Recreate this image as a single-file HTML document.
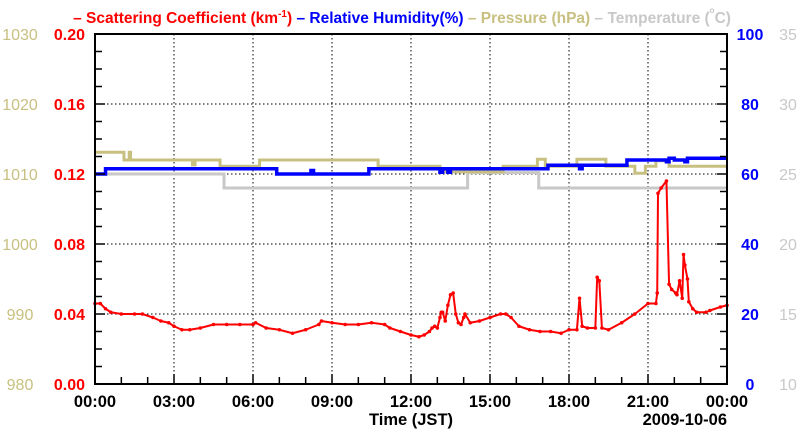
<!DOCTYPE html>
<html><head><meta charset="utf-8">
<style>
html,body{margin:0;padding:0;background:#fff;}
svg{display:block;font-family:"Liberation Sans",sans-serif;font-weight:bold;}
</style></head>
<body>
<svg id="chart" width="800" height="434" viewBox="0 0 800 434" xmlns="http://www.w3.org/2000/svg">
<text x="402" y="23" font-size="15.5" text-anchor="middle"><tspan fill="#ff0000">– Scattering Coefficient (km</tspan><tspan fill="#ff0000" font-size="10" dy="-6">-1</tspan><tspan fill="#ff0000" dy="6">)</tspan><tspan fill="#0000ff"> – Relative Humidity(%)</tspan><tspan fill="#c8c080"> – Pressure (hPa)</tspan><tspan fill="#c8c8c8"> – Temperature (</tspan><tspan fill="#c8c8c8" font-size="8" dy="-10">o</tspan><tspan fill="#c8c8c8" dy="10">C)</tspan></text>
<g id="grid"></g>
<g id="series"></g>
<g id="axes"></g>
</svg>
<script>
// X ticks
const xTickHours = [0,3,6,9,12,15,18,21,24];
const xTickLabels = ["00:00","03:00","06:00","09:00","12:00","15:00","18:00","21:00","00:00"];
// Left axes
const scatTicks = [0,0.04,0.08,0.12,0.16,0.20];
const scatTickLabels = ["0.00","0.04","0.08","0.12","0.16","0.20"];
const presTickLabels = ["980","990","1000","1010","1020","1030"];
// Right axes
const rhTickLabels = ["0","20","40","60","80","100"];
const tempTickLabels = ["10","15","20","25","30","35"];

// Scattering coefficient (hour, km^-1)
const scatHours = [0,0.2,0.4,0.6,1,1.5,1.8,2.2,2.5,2.8,3,3.3,3.6,4,4.5,5,5.5,6,6.1,6.5,7,7.5,8,8.5,8.6,9,9.5,10,10.5,11,11.2,11.6,12,12.3,12.5,12.7,12.8,12.9,13.0,13.1,13.15,13.2,13.3,13.4,13.5,13.6,13.7,13.8,13.9,14.0,14.05,14.25,14.6,15,15.4,15.6,15.8,16.1,16.5,16.9,17.3,17.7,18,18.3,18.4,18.5,18.7,19,19.07,19.15,19.25,19.5,20,20.5,21,21.3,21.35,21.38,21.5,21.7,21.8,21.9,22.05,22.1,22.2,22.3,22.35,22.4,22.5,22.55,22.7,22.85,23.2,23.35,23.75,24];
const scatValues = [0.046,0.046,0.043,0.041,0.040,0.040,0.040,0.038,0.036,0.035,0.033,0.031,0.031,0.032,0.034,0.034,0.034,0.034,0.035,0.032,0.031,0.029,0.031,0.034,0.036,0.035,0.034,0.034,0.035,0.034,0.032,0.030,0.028,0.027,0.028,0.030,0.032,0.033,0.032,0.038,0.041,0.041,0.036,0.045,0.051,0.052,0.040,0.035,0.034,0.038,0.040,0.035,0.036,0.038,0.040,0.040,0.038,0.033,0.031,0.030,0.030,0.029,0.031,0.031,0.049,0.033,0.032,0.032,0.061,0.059,0.032,0.031,0.035,0.040,0.046,0.046,0.052,0.109,0.112,0.116,0.057,0.054,0.052,0.051,0.059,0.049,0.074,0.068,0.060,0.047,0.043,0.041,0.041,0.042,0.044,0.045];

// Relative humidity step series (hour, %)
const rhHours = [0,0.4,6.9,8.2,8.3,8.4,10.4,13.1,13.2,13.4,13.5,17.2,18.4,18.5,18.6,19.5,20.2,21.7,21.8,22.0,22.4,22.5,24];
const rhValues = [60,61.5,60,61,60,60,61.5,60.5,61.5,60.5,61.5,62.5,61.5,62.5,62.5,62.5,64,63.5,64.5,64,63.5,64.5,64.5];

// Pressure step series (hour, hPa)
const presHours = [0,1.1,1.3,1.35,3.65,3.7,3.8,4.75,6.25,10.75,13.1,13.7,15.5,16.8,17.1,18.3,19.4,20.5,20.9,21.3,21.8,24];
const presValues = [1013.1,1012,1013.1,1012,1012,1011.3,1012,1011.1,1012,1011.1,1010.3,1010.3,1011.1,1012.1,1011.1,1012.1,1011.1,1010.1,1011.1,1011.9,1011.1,1011.1];

// Temperature step series (hour, C)
const tempHours = [0,4.9,14.15,16.85,24];
const tempValues = [25,24,25.1,24,24];

const L=95,R=727,T=34,B=384;
const xScale = h => L + (R-L)*h/24;
const yScat = v => B - (B-T)*v/0.2;
const yPres = p => B - (B-T)*(p-980)/50;
const yRH = r => B - (B-T)*r/100;
const yTemp = t => B - (B-T)*(t-10)/25;
const NS="http://www.w3.org/2000/svg";
function mk(tag, attrs, parent){const e=document.createElementNS(NS,tag);for(const k in attrs)e.setAttribute(k,attrs[k]);parent.appendChild(e);return e;}
const grid=document.getElementById('grid'), series=document.getElementById('series'), axes=document.getElementById('axes');

// grid
xTickHours.forEach((h,i)=>{ if(i>0&&i<xTickHours.length-1){
  const g=mk('line',{x1:xScale(h),x2:xScale(h),y1:T,y2:B,stroke:'#000','stroke-width':1,'stroke-dasharray':'1.5,2.5'},grid);
  
  
}});
scatTicks.forEach((v,i)=>{ if(i>0&&i<scatTicks.length-1){
  const g=mk('line',{x1:L,x2:R,y1:yScat(v),y2:yScat(v),stroke:'#000','stroke-width':1,'stroke-dasharray':'1.5,2.5'},grid);
  
  
}});

function stepPath(hs,vs,ys){let d='';for(let i=0;i<hs.length;i++){const x=xScale(hs[i]),y=ys(vs[i]);if(i===0)d+='M'+x+','+y;else{d+='L'+x+','+ys(vs[i-1])+'L'+x+','+y;}}d+='L'+R+','+ys(vs[vs.length-1]);return d;}
const tp=mk('path',{d:stepPath(tempHours,tempValues,yTemp),fill:'none',stroke:'#c8c8c8','stroke-width':3},series);


const pp=mk('path',{d:stepPath(presHours,presValues,yPres),fill:'none',stroke:'#c8c080','stroke-width':3},series);


const rp=mk('path',{d:stepPath(rhHours,rhValues,yRH),fill:'none',stroke:'#0000ff','stroke-width':3.5},series);


let sd='';scatHours.forEach((h,i)=>{sd+=(i?'L':'M')+xScale(h)+','+yScat(scatValues[i]);});
const sp=mk('path',{d:sd,fill:'none',stroke:'#ff0000','stroke-width':2,'stroke-linejoin':'round'},series);


scatHours.forEach((h,i)=>{
  const c=mk('circle',{cx:xScale(h),cy:yScat(scatValues[i]),r:1.8,fill:'#ff0000'},series);
  
  
});

// frame
const fr=mk('rect',{x:L,y:T,width:R-L,height:B-T,fill:'none',stroke:'#000','stroke-width':2},axes);


// minor/major ticks
for(let k=0;k<=20;k++){const y=B-(B-T)*k/20;const len=(k%4===0)?10:7;
  mk('line',{x1:L,x2:L+len,y1:y,y2:y,stroke:'#000','stroke-width':1.5},axes);
  mk('line',{x1:R,x2:R-len,y1:y,y2:y,stroke:'#000','stroke-width':1.5},axes);}
for(let h=0;h<=24;h++){const x=xScale(h);const len=(h%3===0)?10:7;
  mk('line',{x1:x,x2:x,y1:B,y2:B-len,stroke:'#000','stroke-width':1.5},axes);}
// labels
scatTicks.forEach((v,i)=>{const y=yScat(v)+6;
  const a=mk('text',{x:85,y:y,'text-anchor':'end','font-size':16,fill:'#ff0000'},axes);a.textContent=scatTickLabels[i];
  
  
  const b=mk('text',{x:20,y:y,'text-anchor':'middle','font-size':16,fill:'#c8c080','font-weight':'normal'},axes);b.textContent=presTickLabels[i];
  
  
  const c=mk('text',{x:750,y:y,'text-anchor':'middle','font-size':16,fill:'#0000ff'},axes);c.textContent=rhTickLabels[i];
  
  
  const d=mk('text',{x:788,y:y,'text-anchor':'middle','font-size':16,fill:'#c8c8c8','font-weight':'normal'},axes);d.textContent=tempTickLabels[i];
  
  
});
xTickHours.forEach((h,i)=>{
  const t=mk('text',{x:xScale(h),y:407,'text-anchor':'middle','font-size':16.5,fill:'#000'},axes);t.textContent=xTickLabels[i];
  
  
});
const xt=mk('text',{x:411,y:425,'text-anchor':'middle','font-size':16.5,fill:'#000'},axes);xt.textContent='Time (JST)';


const dt=mk('text',{x:727,y:425,'text-anchor':'end','font-size':16.5,fill:'#000'},axes);dt.textContent='2009-10-06';


</script>
</body></html>
